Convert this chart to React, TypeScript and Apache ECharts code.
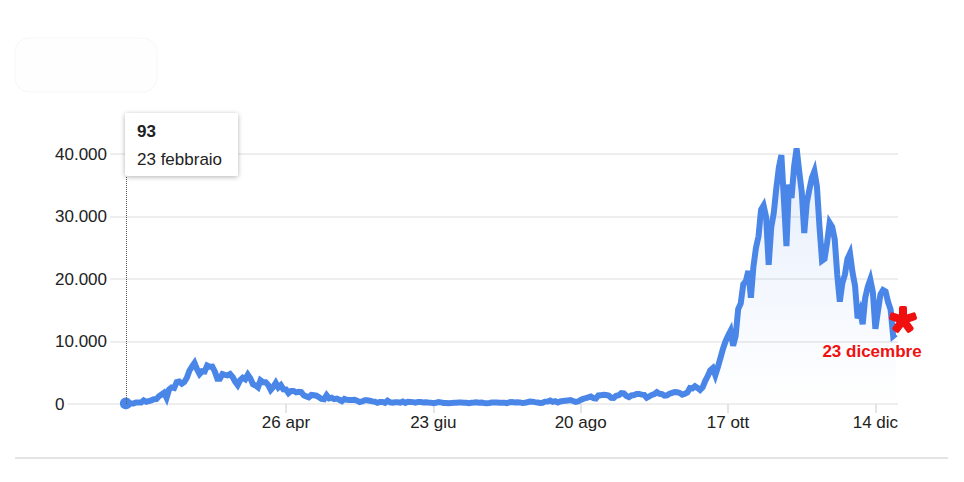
import React, { useEffect, useRef } from "react";
import * as echarts from "echarts";

// Daily new cases, 23 Feb – 22 Dec
const feb = [93, 78, 93, 78, 250, 238, 240];
const mar = [566, 342, 466, 587, 769, 778, 1247, 1492, 1797, 977, 2313, 2651, 2547, 3497, 3590, 3233, 3526, 4207, 5322, 5986, 6557, 5560, 4789, 5249, 5210, 6153, 5959, 5974, 5217, 4050, 4053];
const apr = [4782, 4668, 4585, 4805, 4316, 3599, 3039, 3836, 4204, 3951, 4694, 4092, 3153, 2972, 2667, 3786, 3493, 3491, 3047, 2256, 2729, 3370, 2646, 3021, 2357, 2324, 1739, 2091, 2086, 1872];
const may = [1965, 1900, 1389, 1221, 1075, 1444, 1401, 1327, 1083, 802, 744, 1402, 888, 992, 789, 875, 675, 451, 813, 665, 642, 652, 669, 531, 300, 397, 584, 593, 516, 416, 355];
const jun = [178, 318, 321, 177, 518, 270, 197, 280, 283, 202, 379, 163, 346, 338, 301, 210, 329, 333, 251, 262, 224, 218, 122, 190, 296, 259, 175, 174, 126, 142];
const jul = [187, 201, 223, 235, 192, 208, 138, 193, 229, 276, 188, 234, 169, 114, 162, 230, 233, 249, 219, 218, 190, 129, 282, 306, 252, 275, 255, 170, 212, 289, 386];
const aug = [379, 295, 239, 159, 190, 384, 402, 552, 347, 463, 259, 412, 481, 523, 574, 629, 479, 320, 403, 642, 845, 947, 1071, 1210, 953, 878, 1367, 1411, 1462, 1444, 1365];
const sep = [996, 978, 1326, 1397, 1733, 1695, 1297, 1108, 1370, 1434, 1597, 1616, 1501, 1458, 1008, 1229, 1452, 1585, 1907, 1638, 1587, 1350, 1392, 1640, 1786, 1912, 1869, 1766, 1494, 1648];
const oct = [1851, 2548, 2499, 2844, 2578, 2257, 2677, 3678, 4458, 5372, 5724, 4619, 5901, 7332, 8804, 10010, 10925, 11705, 9338, 10874, 15199, 16079, 19143, 19644, 21273, 17012, 21994, 24991, 26831, 31084, 31758];
const nov = [29907, 22253, 28244, 30550, 34505, 37809, 39811, 32616, 25271, 35098, 32961, 37978, 40902, 37255, 33979, 27354, 32191, 34283, 36176, 37242, 34767, 28337, 22930, 23232, 25853, 29003, 28352, 26323, 20648, 16377];
const dec = [19350, 20709, 23225, 24099, 21052, 18887, 13720, 14842, 12756, 16999, 18727, 19903, 17938, 12030, 14844, 17572, 18236, 17992, 16308, 15104, 10872, 11200];

const startDate = Date.UTC(2020, 1, 23);
const tickDates = [Date.UTC(2020, 3, 26), Date.UTC(2020, 5, 23), Date.UTC(2020, 7, 20), Date.UTC(2020, 9, 17), Date.UTC(2020, 11, 14)];
const tickLabels = ["26 apr", "23 giu", "20 ago", "17 ott", "14 dic"];
const yTicks = [0, 10000, 20000, 30000, 40000];
const tooltipValue = "93";
const tooltipDate = "23 febbraio";
const noteLabel = "23 dicembre";

const DAY = 86400000;
const values = [...feb, ...mar, ...apr, ...may, ...jun, ...jul, ...aug, ...sep, ...oct, ...nov, ...dec];
const seriesData = values.map((v, i) => [i, v]);
const tickIdx = tickDates.map((d) => Math.round((d - startDate) / DAY));

const fmt = (v: number) => String(v).replace(/\B(?=(\d{3})+(?!\d))/g, ".");
const FONT = "'Liberation Sans', Arial, sans-serif";
const BLUE = "#4a86e8";

export default function App() {
  const ref = useRef<HTMLDivElement>(null);
  useEffect(() => {
    if (!ref.current) return;
    const chart = echarts.init(ref.current, null, { renderer: "svg" });
    const arms = [0, 1, 2, 3, 4].map((k) => ({
      type: "rect",
      z: 100,
      x: 903,
      y: 320,
      rotation: (k * 2 * Math.PI) / 5,
      shape: { x: -4, y: -14, width: 8, height: 14, r: 2 },
      style: { fill: "#f01010" },
    }));
    chart.setOption({
      animation: false,
      grid: { left: 55, right: 66, top: 154, bottom: 78 },
      xAxis: {
        type: "value",
        min: -27.9,
        max: 303.9,
        axisLine: { show: false },
        splitLine: { show: false },
        axisTick: { show: true, customValues: tickIdx, length: 9, lineStyle: { color: "#dddddd", width: 1.5 } },
        axisLabel: {
          customValues: tickIdx,
          formatter: (v: number) => tickLabels[tickIdx.indexOf(Math.round(v))] ?? "",
          margin: 10,
          fontSize: 17,
          fontFamily: FONT,
          color: "#222",
        },
      },
      yAxis: {
        type: "value",
        min: 0,
        max: 40000,
        interval: 10000,
        axisLine: { show: false },
        axisTick: { show: false },
        splitLine: { lineStyle: { color: "#e8e8e8", width: 1.5 } },
        axisLabel: {
          inside: true,
          margin: 0,
          formatter: (v: number) => (yTicks.includes(v) ? fmt(v) : ""),
          fontSize: 17,
          fontFamily: FONT,
          color: "#222",
          backgroundColor: "#ffffff",
          padding: [2, 3, 2, 0],
        },
      },
      series: [
        {
          type: "line",
          data: seriesData,
          showSymbol: false,
          symbol: "none",
          clip: false,
          lineStyle: { color: BLUE, width: 6, join: "miter" },
          areaStyle: {
            color: new echarts.graphic.LinearGradient(0, 0, 0, 1, [
              { offset: 0, color: "rgba(74,134,232,0.2)" },
              { offset: 1, color: "rgba(74,134,232,0.0)" },
            ]),
          },
          markLine: {
            silent: true,
            symbol: "none",
            label: { show: false },
            lineStyle: { type: "dotted", color: "#555", width: 1 },
            data: [{ xAxis: 0 }],
          },
          z: 2,
        },
        {
          type: "scatter",
          data: [seriesData[0]],
          symbol: "circle",
          symbolSize: 12,
          itemStyle: { color: BLUE, opacity: 1 },
          z: 4,
        },
      ],
      graphic: [
        {
          type: "rect",
          z: 1,
          shape: { x: 15, y: 38, width: 142, height: 54, r: 14 },
          style: { fill: "#fefeff", stroke: "#f6f7fb", lineWidth: 1 },
        },
        {
          type: "line",
          z: 1,
          shape: { x1: 15, y1: 458, x2: 948, y2: 458 },
          style: { stroke: "#e4e4e4", lineWidth: 2 },
        },
        {
          type: "rect",
          z: 100,
          zlevel: 1,
          shape: { x: 125, y: 113, width: 113, height: 63, r: 2 },
          style: { fill: "#fff", shadowBlur: 5, shadowColor: "rgba(0,0,0,0.3)", shadowOffsetY: 1 },
        },
        {
          type: "text",
          z: 101,
          zlevel: 1,
          x: 137,
          y: 131,
          style: { text: tooltipValue, font: `bold 17px ${FONT}`, fill: "#222", verticalAlign: "middle" },
        },
        {
          type: "text",
          z: 101,
          zlevel: 1,
          x: 137,
          y: 159,
          style: { text: tooltipDate, font: `17px ${FONT}`, fill: "#222", verticalAlign: "middle" },
        },
        { type: "group", z: 100, children: arms },
        {
          type: "text",
          z: 100,
          x: 872,
          y: 351,
          style: { text: noteLabel, font: `bold 17px ${FONT}`, fill: "#f01010", align: "center", verticalAlign: "middle" },
        },
      ],
    });
    return () => chart.dispose();
  }, []);
  return <div ref={ref} style={{ width: 964, height: 482, position: "absolute", left: 0, top: 0 }} />;
}
